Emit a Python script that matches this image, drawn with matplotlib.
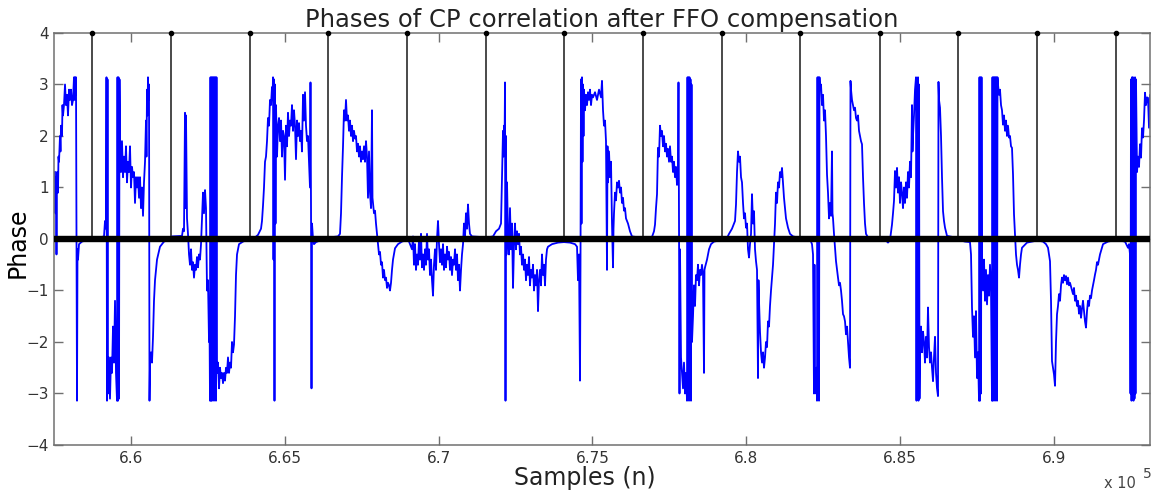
import matplotlib
matplotlib.use("Agg")
import matplotlib.pyplot as plt

# ---- phase trace: (sample index, phase in rad) ----
sym00 = [(657532, 1.3), (657549, 0.5), (657565, 1.2), (657581, -0.3), (657598, 1.3),
         (657630, 0.9), (657646, 1.6), (657663, 1.5), (657695, 2.0), (657711, 1.7),
         (657728, 2.2), (657760, 2.0), (657776, 2.6), (657793, 2.4), (657825, 2.6),
         (657858, 3.0), (657890, 2.6), (657923, 2.8), (657955, 2.4), (657988, 2.9),
         (658020, 2.7), (658053, 2.9), (658085, 2.6), (658118, 2.7), (658150, 3.14),
         (658166, 2.7), (658183, 3.14), (658199, 2.8), (658215, 3.14), (658248, -3.14),
         (658264, -0.2), (658280, -0.4), (658313, -0.1), (658410, -0.05), (658573, -0.02),
         (658768, 0.0)]
sym01 = [(659125, 0.05), (659158, 0.35), (659190, 0.2), (659206, 3.14), (659223, -3.14),
         (659239, 3.1), (659255, -3.0), (659288, -2.3), (659320, -3.1), (659353, -2.3),
         (659385, -2.6), (659418, -1.7), (659450, -2.4), (659483, -1.2), (659515, -2.6),
         (659548, -3.14), (659564, 3.14), (659580, -3.14), (659596, 3.14), (659613, -3.1),
         (659629, 3.1), (659645, 2.0), (659678, 1.3), (659710, 1.9), (659743, 1.2),
         (659775, 1.6), (659808, 1.3), (659840, 1.8), (659873, 1.1), (659905, 1.5),
         (659938, 1.3), (659970, 1.8), (660003, 1.0), (660035, 1.4), (660068, 1.2),
         (660100, 1.3), (660133, 0.7), (660165, 1.2), (660198, 1.0), (660230, 1.2),
         (660263, 0.8), (660295, 1.2), (660328, 0.6), (660360, 1.0), (660393, 0.45),
         (660425, 1.1), (660458, 1.5), (660490, 2.3), (660506, 1.6), (660523, 2.9),
         (660539, 2.4), (660555, 3.14), (660571, 2.7), (660588, 3.0), (660604, -3.14),
         (660620, -2.4), (660653, -2.2), (660685, -2.4), (660718, -1.9), (660750, -1.2),
         (660783, -0.8), (660848, -0.4), (660945, -0.15), (661075, -0.05), (661303, 0.0)]
sym02 = [(661335, 0.05), (661660, 0.06), (661693, 0.2), (661725, 0.15), (661758, 2.45),
         (661774, 0.6), (661790, 2.4), (661823, 0.4), (661855, 0.1), (661888, -0.3),
         (661920, -0.5), (661953, -0.2), (661985, -0.6), (662018, -0.45), (662050, -0.75),
         (662083, -0.5), (662115, -0.6), (662148, -0.35), (662180, -0.55), (662213, -0.3),
         (662245, -0.4), (662278, -0.1), (662310, 0.4), (662343, 0.9), (662375, 0.5),
         (662408, 0.95), (662440, 0.6), (662473, -1.0), (662505, -0.8), (662538, -2.0),
         (662554, -1.6), (662570, -3.14), (662586, 3.14), (662603, -3.14), (662619, 3.14),
         (662635, -3.14), (662651, 3.14), (662668, -3.1), (662684, 3.14), (662700, -3.14),
         (662716, 3.14), (662733, -3.0), (662749, 3.14), (662765, -3.14), (662781, 3.14),
         (662798, -2.6), (662830, -2.4), (662863, -2.9), (662895, -2.5), (662928, -2.7),
         (662960, -2.6), (662993, -2.8), (663025, -2.6), (663058, -2.75), (663090, -2.5),
         (663123, -2.6), (663155, -2.3), (663188, -2.6), (663220, -2.4), (663253, -2.5),
         (663285, -2.0), (663318, -2.2), (663350, -2.05), (663383, -1.5), (663415, -0.7),
         (663448, -0.3), (663513, -0.1), (663643, -0.05), (663870, 0.0)]
sym03 = [(663903, 0.02), (664033, 0.03), (664130, 0.08), (664228, 0.2), (664260, 0.35),
         (664293, 0.65), (664325, 1.0), (664358, 1.5), (664390, 1.6), (664423, 1.9),
         (664455, 2.35), (664488, 2.2), (664520, 2.7), (664553, 2.6), (664585, 2.95),
         (664601, 2.7), (664618, 3.14), (664634, -0.4), (664650, 3.1), (664666, -3.14),
         (664683, 3.0), (664699, 0.3), (664715, 2.6), (664748, 1.6), (664780, 2.2),
         (664813, 2.35), (664845, 1.9), (664878, 2.3), (664910, 1.6), (664943, 2.1),
         (664975, 2.0), (665008, 1.15), (665040, 2.2), (665073, 1.8), (665105, 2.45),
         (665138, 2.0), (665170, 2.3), (665203, 2.2), (665235, 2.6), (665268, 2.1),
         (665300, 2.5), (665333, 2.2), (665365, 1.55), (665398, 2.3), (665430, 2.0),
         (665463, 2.25), (665495, 1.9), (665528, 2.1), (665560, 1.7), (665593, 2.8),
         (665625, 2.3), (665658, 2.85), (665690, 2.2), (665723, 1.9), (665755, 2.0),
         (665788, 1.5), (665820, 1.0), (665836, 3.04), (665853, 0.6), (665869, -2.9),
         (665885, 0.3), (665918, 0.0), (665950, -0.1), (666015, -0.06), (666145, -0.03),
         (666405, 0.0)]
sym04 = [(666438, 0.03), (666730, 0.05), (666795, 0.1), (666828, 0.5), (666860, 1.2),
         (666893, 1.8), (666925, 2.5), (666958, 2.3), (666990, 2.7), (667023, 2.3),
         (667055, 2.4), (667088, 2.1), (667120, 2.3), (667153, 2.0), (667185, 2.2),
         (667218, 1.9), (667250, 2.1), (667283, 1.95), (667315, 2.0), (667348, 1.7),
         (667380, 1.85), (667413, 1.6), (667445, 1.8), (667478, 1.5), (667510, 1.7),
         (667543, 1.55), (667575, 1.8), (667608, 1.5), (667640, 1.9), (667673, 1.6),
         (667705, 0.8), (667738, 1.7), (667770, 0.9), (667803, 0.6), (667835, 2.5),
         (667851, 0.8), (667868, 0.7), (667900, 0.5), (667933, 0.55), (667965, 0.3),
         (667998, 0.1), (668030, -0.1), (668063, -0.3), (668095, -0.25), (668128, -0.5),
         (668160, -0.45), (668193, -0.75), (668225, -0.6), (668258, -0.8), (668290, -0.75),
         (668323, -0.95), (668355, -0.85), (668388, -0.9), (668420, -1.0), (668453, -0.85),
         (668485, -0.6), (668518, -0.4), (668583, -0.18), (668680, -0.1), (668810, -0.05),
         (668973, -0.02)]
sym05 = [(669038, -0.05), (669135, -0.2), (669168, 0.05), (669200, -0.5), (669233, -0.1),
         (669265, -0.6), (669298, -0.3), (669330, -0.5), (669363, 0.0), (669395, -0.4),
         (669428, 0.1), (669460, -0.55), (669493, -0.3), (669525, -0.6), (669558, -0.2),
         (669590, -0.5), (669623, 0.1), (669655, -0.4), (669688, -0.2), (669720, -0.7),
         (669753, -0.4), (669785, -0.8), (669818, -1.1), (669850, -0.5), (669883, -0.2),
         (669915, -0.6), (669948, 0.0), (669980, 0.35), (670013, -0.1), (670045, -0.45),
         (670078, -0.2), (670110, -0.5), (670143, -0.1), (670175, -0.6), (670208, -0.3),
         (670240, -0.55), (670273, -0.15), (670305, -0.4), (670338, -0.25), (670370, -0.6),
         (670403, -0.35), (670435, -0.7), (670468, -0.4), (670500, -0.5), (670533, -0.2),
         (670565, -0.6), (670598, -0.3), (670630, -0.8), (670663, -0.5), (670695, -1.0),
         (670728, -0.6), (670760, -0.3), (670793, -0.1), (670825, 0.3), (670858, 0.05),
         (670890, 0.5), (670923, 0.2), (670955, 0.67), (670988, 0.3), (671020, 0.1),
         (671085, 0.05), (671345, 0.04), (671540, 0.02)]
sym06 = [(671573, 0.03), (671768, 0.05), (671865, 0.15), (671963, 0.2), (672028, 0.3),
         (672060, 1.2), (672093, 2.1), (672109, 1.6), (672125, 2.2), (672141, 1.7),
         (672158, 3.04), (672174, -3.14), (672190, 2.0), (672206, -0.3), (672223, 1.1),
         (672255, 0.1), (672288, -0.3), (672320, 0.6), (672353, -0.2), (672385, 0.3),
         (672418, -0.95), (672450, -0.1), (672483, 0.3), (672515, -0.2), (672548, 0.15),
         (672580, -0.1), (672613, 0.1), (672645, -0.3), (672678, -0.15), (672710, -0.5),
         (672743, -0.3), (672775, -0.6), (672808, -0.4), (672840, -0.8), (672873, -0.5),
         (672905, -0.7), (672938, -0.35), (672970, -0.9), (673003, -0.6), (673035, -0.75),
         (673068, -0.5), (673100, -1.0), (673133, -0.7), (673165, -0.9), (673198, -0.6),
         (673230, -1.4), (673263, -0.8), (673295, -0.6), (673328, -0.9), (673360, -0.3),
         (673393, -0.7), (673425, -0.5), (673458, -0.9), (673490, -0.4), (673523, -0.2),
         (673555, -0.15), (673685, -0.1), (673880, -0.07), (674075, -0.06)]
sym07 = [(674270, -0.07), (674433, -0.1), (674498, -0.15), (674530, -0.8), (674563, -0.3),
         (674595, -2.75), (674611, -0.5), (674628, 3.1), (674644, 0.3), (674660, 3.14),
         (674676, 1.5), (674693, 3.0), (674709, 2.0), (674725, 2.9), (674758, 2.5),
         (674790, 2.8), (674823, 2.6), (674855, 2.85), (674888, 2.7), (674920, 2.9),
         (674953, 2.6), (674985, 2.8), (675018, 2.75), (675083, 2.85), (675148, 2.7),
         (675213, 2.9), (675278, 2.75), (675310, 3.07), (675343, 2.5), (675375, 2.2),
         (675408, 2.3), (675440, 1.9), (675473, -0.6), (675489, 1.8), (675505, 1.1),
         (675538, 1.7), (675570, 1.2), (675603, 1.5), (675635, 0.3), (675668, -0.55),
         (675684, 0.2), (675700, 0.5), (675733, 0.9), (675765, 0.75), (675798, 1.1),
         (675830, 1.0), (675863, 1.13), (675895, 0.9), (675928, 1.0), (675960, 0.7),
         (675993, 0.8), (676025, 0.55), (676058, 0.6), (676090, 0.4), (676155, 0.3),
         (676220, 0.15), (676285, 0.05), (676643, 0.02)]
sym08 = [(676675, 0.03), (676935, 0.04), (677000, 0.15), (677033, 0.28), (677065, 0.6),
         (677098, 0.87), (677130, 1.77), (677163, 1.6), (677195, 2.2), (677228, 2.0),
         (677260, 2.1), (677293, 1.8), (677325, 2.0), (677358, 1.7), (677390, 1.85),
         (677423, 1.6), (677455, 1.75), (677488, 1.5), (677520, 1.8), (677553, 1.5),
         (677585, 1.6), (677618, 1.3), (677650, 1.5), (677683, 1.2), (677715, 1.4),
         (677748, 1.05), (677780, 1.3), (677796, 3.04), (677813, 0.3), (677829, -3.0),
         (677845, -0.2), (677878, -2.3), (677910, -2.6), (677943, -2.9), (677975, -2.4),
         (678008, -3.0), (678040, -2.6), (678073, -3.14), (678089, 3.14), (678105, -3.1),
         (678121, 3.14), (678138, -3.14), (678154, 3.14), (678170, -3.1), (678186, 3.1),
         (678203, -3.14), (678219, 3.0), (678235, -2.0), (678268, -1.5), (678300, -0.9),
         (678333, -1.3), (678365, -0.7), (678398, -0.8), (678430, -0.5), (678463, -0.9),
         (678495, -0.6), (678528, -0.7), (678560, -0.5), (678593, -0.7), (678625, -2.6),
         (678641, -0.6), (678658, -0.55), (678723, -0.4), (678788, -0.2), (678853, -0.1),
         (678950, -0.05), (679210, -0.02)]
sym09 = [(679243, 0.0), (679373, 0.02), (679438, 0.1), (679535, 0.2), (679633, 0.35),
         (679665, 0.67), (679698, 1.3), (679730, 1.7), (679763, 1.5), (679795, 1.6),
         (679828, 1.2), (679860, 1.1), (679893, 0.7), (679925, 0.4), (679958, 0.5),
         (679990, 0.22), (680023, 0.3), (680055, -0.2), (680088, -0.36), (680120, -0.1),
         (680153, 0.1), (680185, 0.87), (680218, 0.3), (680250, 0.54), (680283, -0.2),
         (680315, -0.43), (680348, -0.6), (680380, -2.7), (680396, -0.8), (680413, -1.2),
         (680445, -1.8), (680478, -2.2), (680510, -2.4), (680543, -2.2), (680575, -2.5),
         (680608, -2.3), (680640, -2.0), (680673, -2.1), (680705, -1.6), (680738, -1.7),
         (680770, -1.3), (680803, -1.0), (680835, -0.75), (680868, -0.5), (680900, -0.1),
         (680933, 0.3), (680965, 0.9), (680998, 0.7), (681030, 1.1), (681063, 1.0),
         (681095, 1.3), (681128, 1.2), (681160, 1.38), (681193, 1.1), (681225, 0.8),
         (681258, 0.6), (681290, 0.4), (681355, 0.22), (681420, 0.1), (681518, 0.05),
         (681745, 0.02)]
sym10 = [(681778, 0.02), (682070, 0.0), (682135, -0.1), (682168, -0.3), (682200, -3.0),
         (682216, -0.5), (682233, -2.7), (682265, -3.0), (682281, -2.5), (682298, -3.14),
         (682314, 3.14), (682330, -3.1), (682346, 3.14), (682363, -3.14), (682379, 3.14),
         (682395, 2.9), (682428, 3.0), (682460, 2.6), (682493, 2.8), (682525, 2.3),
         (682558, 2.5), (682590, 2.0), (682623, 1.25), (682655, 0.9), (682688, 0.4),
         (682720, 0.7), (682753, 0.45), (682785, 1.7), (682801, 0.5), (682818, 0.4),
         (682850, 0.1), (682883, -0.17), (682915, -0.43), (682948, -0.6), (682980, -0.75),
         (683013, -0.9), (683045, -0.85), (683078, -1.0), (683110, -1.2), (683143, -1.46),
         (683175, -1.5), (683208, -1.6), (683240, -1.85), (683273, -1.7), (683305, -2.0),
         (683338, -2.3), (683370, -2.5), (683386, 3.07), (683403, 2.9), (683435, 2.7),
         (683468, 2.6), (683500, 2.5), (683533, 2.55), (683565, 2.35), (683598, 2.3),
         (683630, 2.4), (683663, 2.1), (683695, 2.0), (683728, 1.9), (683760, 1.84),
         (683793, 1.2), (683825, 0.7), (683858, 0.3), (683890, 0.1), (683955, 0.03),
         (684345, 0.02)]
sym11 = [(684378, 0.02), (684540, -0.03), (684605, -0.07), (684670, -0.02), (684735, 0.28),
         (684768, 0.5), (684800, 0.74), (684833, 1.32), (684865, 1.0), (684898, 1.38),
         (684930, 0.9), (684963, 1.2), (684995, 0.7), (685028, 1.1), (685060, 0.9),
         (685093, 0.6), (685125, 1.0), (685158, 0.7), (685190, 1.1), (685223, 0.8),
         (685255, 1.3), (685288, 1.0), (685320, 1.5), (685353, 1.2), (685385, 2.6),
         (685401, 1.7), (685418, 2.0), (685450, 2.4), (685483, 2.9), (685515, 3.14),
         (685531, -3.14), (685548, 3.1), (685564, -3.1), (685580, 3.14), (685596, -3.14),
         (685613, 3.0), (685629, -3.1), (685645, -2.0), (685678, -1.7), (685710, -2.2),
         (685743, -1.8), (685775, -2.0), (685808, -2.4), (685840, -1.9), (685873, -2.3),
         (685905, -1.33), (685938, -2.1), (685970, -2.4), (686003, -2.2), (686035, -2.5),
         (686068, -2.76), (686100, -2.3), (686133, -1.9), (686165, -2.6), (686198, -2.9),
         (686230, -3.05), (686246, 3.05), (686263, 2.7), (686295, 2.55), (686328, 2.0),
         (686360, 1.2), (686393, 0.54), (686425, 0.35), (686458, 0.22), (686523, 0.06),
         (686880, 0.02)]
sym12 = [(686913, -0.02), (687108, -0.05), (687270, -0.06), (687303, -0.3), (687335, -1.33),
         (687368, -1.9), (687400, -1.5), (687433, -2.3), (687465, -1.4), (687498, -2.7),
         (687530, -2.2), (687563, -3.14), (687579, 3.14), (687595, -3.14), (687611, 3.14),
         (687628, -3.0), (687644, 3.14), (687660, -0.5), (687693, -1.0), (687725, -0.4),
         (687758, -1.2), (687790, -0.6), (687823, -1.27), (687855, -0.7), (687888, -1.1),
         (687920, -0.5), (687953, -1.0), (687985, -3.14), (688001, 3.14), (688018, -3.14),
         (688034, 3.14), (688050, -3.1), (688066, 3.14), (688083, -3.14), (688099, 3.14),
         (688115, -3.0), (688131, 3.14), (688148, -3.14), (688164, 3.14), (688180, 3.0),
         (688213, 2.8), (688245, 2.9), (688278, 2.6), (688310, 2.5), (688343, 2.22),
         (688375, 2.4), (688408, 2.1), (688440, 2.3), (688473, 2.0), (688505, 2.2),
         (688538, 1.97), (688570, 2.0), (688603, 1.8), (688635, 1.77), (688668, 1.25),
         (688700, 0.48), (688733, 0.09), (688765, -0.3), (688798, -0.5), (688830, -0.6),
         (688863, -0.75), (688895, -0.5), (688928, -0.3), (688960, -0.17), (689123, -0.07),
         (689448, -0.03)]
sym13 = [(689480, -0.03), (689643, -0.05), (689740, -0.1), (689805, -0.17), (689870, -0.43),
         (689903, -1.2), (689935, -2.37), (689968, -2.5), (690000, -2.63), (690033, -2.85),
         (690065, -2.0), (690098, -1.46), (690130, -1.3), (690163, -1.07), (690195, -1.2),
         (690228, -0.9), (690260, -0.75), (690293, -0.85), (690325, -0.7), (690358, -0.8),
         (690390, -0.72), (690423, -0.88), (690455, -0.75), (690488, -0.9), (690520, -0.85),
         (690585, -1.0), (690618, -1.07), (690650, -0.95), (690683, -1.2), (690715, -1.1),
         (690748, -1.3), (690780, -1.2), (690813, -1.45), (690845, -1.3), (690878, -1.53),
         (690910, -1.35), (690943, -1.2), (690975, -1.4), (691008, -1.6), (691040, -1.72),
         (691073, -1.4), (691105, -1.2), (691138, -1.3), (691170, -1.1), (691203, -1.15),
         (691235, -1.0), (691268, -0.9), (691300, -0.8), (691333, -0.69), (691365, -0.6),
         (691398, -0.45), (691430, -0.5), (691495, -0.3), (691593, -0.1), (691755, -0.05),
         (692015, -0.02)]
sym14 = [(692048, -0.02), (692308, -0.05), (692405, -0.17), (692438, -0.1), (692470, -0.3),
         (692486, -3.0), (692503, 3.1), (692519, -3.14), (692535, 3.14), (692551, -3.1),
         (692568, 3.14), (692584, -3.14), (692600, 3.1), (692616, -3.1), (692633, 3.14),
         (692649, -3.0), (692665, 3.1), (692698, 1.3), (692730, 1.6), (692763, 1.4),
         (692795, 1.84), (692828, 1.58), (692860, 2.15), (692893, 1.97), (692925, 2.3),
         (692958, 2.84), (692990, 2.6), (693023, 2.75), (693055, 2.74), (693088, 2.16),
         (693120, 2.8), (693153, 2.7)]

trace = (sym00 + sym01 + sym02 + sym03 + sym04 + sym05 + sym06 + sym07 + sym08
         + sym09 + sym10 + sym11 + sym12 + sym13 + sym14)
samples = [p[0] for p in trace]
phase = [p[1] for p in trace]

# ---- detected symbol starts (stems) ----
stem_samples = [658735, 661303, 663870, 666405, 668973, 671540, 674075,
                676643, 679210, 681745, 684345, 686880, 689448, 692015]
stem_heights = [4, 4, 4, 4, 4, 4, 4, 4, 4, 4, 4, 4, 4, 4]

x_ticks = [660000, 665000, 670000, 675000, 680000, 685000, 690000]
x_tick_labels = ["6.6", "6.65", "6.7", "6.75", "6.8", "6.85", "6.9"]
y_ticks = [-4, -3, -2, -1, 0, 1, 2, 3, 4]
x_range = (657500, 693120)
y_range = (-4, 4)

fig = plt.figure(figsize=(11.55, 4.92), dpi=100)
ax = fig.add_axes([0.04675, 0.09553, 0.94892, 0.8374])

ax.plot(samples, phase, color="#0000ff", lw=1.3, zorder=2)

markerline, stemlines, baseline = ax.stem(stem_samples, stem_heights, basefmt=" ")
plt.setp(stemlines, color="#3c3c3c", linewidth=1.3, zorder=1.5)
plt.setp(markerline, color="k", markersize=3, zorder=5, clip_on=False)
ax.axhline(0, color="k", lw=4.6, zorder=4)

ax.set_xlim(*x_range)
ax.set_ylim(*y_range)
ax.set_xticks(x_ticks)
ax.set_xticklabels(x_tick_labels)
ax.set_yticks(y_ticks)

for s in ax.spines.values():
    s.set_color("#707070")
    s.set_linewidth(1.1)
ax.tick_params(direction="in", top=True, right=True, length=6.5, width=1.0,
               color="#707070", labelsize=11, labelcolor="#333333", pad=4)

ax.set_title("Phases of CP correlation after FFO compensation", fontsize=17.5,
             color="#222222", pad=4)
ax.set_xlabel("Samples (n)", fontsize=17, color="#222222")
ax.xaxis.set_label_coords(0.4845, -0.080)
ax.xaxis.label.set_va("center")
ax.set_ylabel("Phase", fontsize=17, color="black")
ax.yaxis.set_label_coords(-0.0225, 0.49)

fig.text(1104 / 1155, 1 - 491 / 492, "x 10", fontsize=10.5, color="#444444",
         ha="left", va="bottom")
fig.text(1143 / 1155, 1 - 481 / 492, "5", fontsize=10, color="#444444",
         ha="left", va="bottom")

fig.savefig("out.png", dpi=100)
